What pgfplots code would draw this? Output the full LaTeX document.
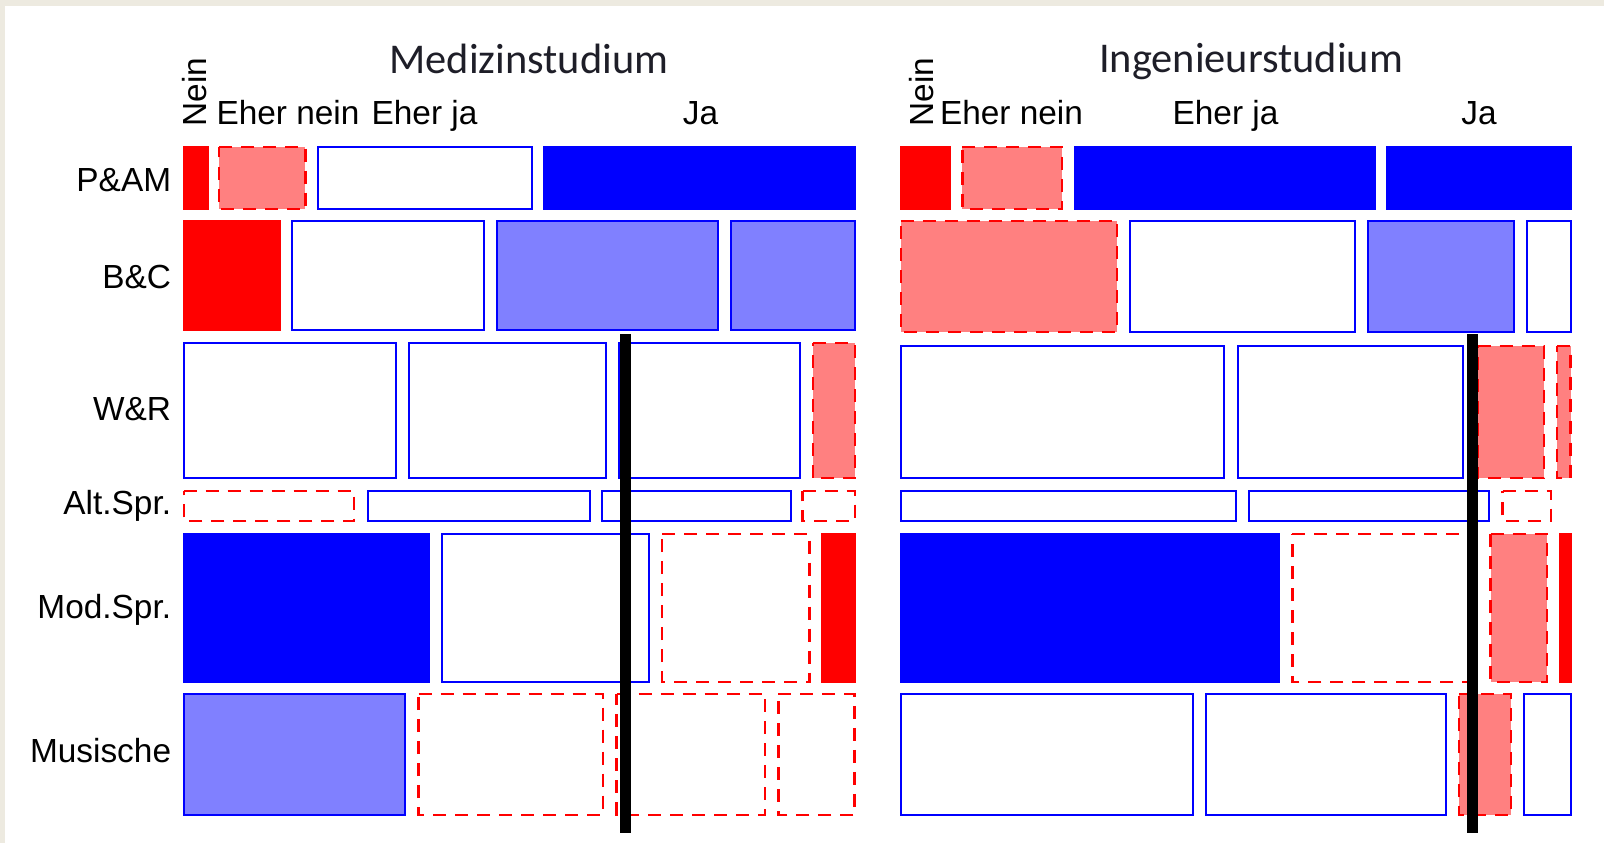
\documentclass[border=0pt]{standalone}
\usepackage{pgfplots}
\pgfplotsset{compat=1.18}
\usepackage{fontspec}
\setmainfont{Liberation Sans}
\newfontfamily\titlefont{Carlito}
\definecolor{lred}{RGB}{255,128,128}
\definecolor{lblue}{RGB}{128,128,255}
\definecolor{beige}{RGB}{237,234,224}
\definecolor{ttlcol}{RGB}{30,30,40}
\tikzset{
  rs/.style={draw=red, fill=red, line width=1bp},
  lr/.style={draw=red, fill=lred, line width=1.1bp, dash pattern=on 6.5bp off 4.5bp},
  wn/.style={draw=red, fill=white, line width=1.1bp, dash pattern=on 6.5bp off 4.5bp},
  wp/.style={draw=blue, fill=white, line width=1bp},
  lb/.style={draw=blue, fill=lblue, line width=1bp},
  bs/.style={draw=blue, fill=blue, line width=1bp},
  lab/.style={inner sep=0pt, font={\fontsize{16.7bp}{20bp}\selectfont}},
  ttl/.style={inner sep=0pt, text=ttlcol, font={\titlefont\fontsize{21.2bp}{25bp}\selectfont}},
}
% cell: style, x0, x1, y0, y1 (pixel units of the mosaic)
\newcommand{\cell}[5]{\addplot[#1] coordinates {(#2,#4) (#3,#4) (#3,#5) (#2,#5)} -- cycle;}
\begin{document}
\begin{tikzpicture}
\begin{axis}[scale only axis, width=802bp, height=421.5bp,
  xmin=0, xmax=1604, ymin=0, ymax=843, y dir=reverse,
  hide axis, clip=false, no markers]
% background
\addplot[fill=white, draw=none] coordinates {(0,0) (1604,0) (1604,843) (0,843)} -- cycle;
\addplot[fill=beige, draw=none] coordinates {(0,0) (1604,0) (1604,6) (0,6)} -- cycle;
\addplot[fill=beige, draw=none] coordinates {(0,0) (5,0) (5,843) (0,843)} -- cycle;
% ---------------- Medizinstudium ----------------
% P&AM
\cell{rs}{183.7}{207.8}{146.7}{209}
\cell{lr}{219.3}{305.4}{146.7}{209}
\cell{wp}{317.6}{532}{146.7}{209}
\cell{bs}{544.2}{854.8}{146.7}{209}
% B&C
\cell{rs}{183.7}{279.6}{220.7}{330}
\cell{wp}{292.2}{484}{220.7}{330}
\cell{lb}{497.1}{718.1}{220.7}{330}
\cell{lb}{731.3}{855}{220.7}{330}
% W&R
\cell{wp}{183.7}{396.1}{343.3}{478.3}
\cell{wp}{409.3}{606.2}{343.3}{478.3}
\cell{wp}{618.8}{799.7}{343.3}{478.3}
\cell{lr}{812.9}{855}{343.3}{478.3}
% Alt.Spr.
\cell{wn}{183.7}{354.2}{491}{520.7}
\cell{wp}{368}{589.6}{491}{520.7}
\cell{wp}{602.2}{790.5}{491}{520.7}
\cell{wn}{802.5}{855}{491}{520.7}
% Mod.Spr.
\cell{bs}{183.7}{429.4}{534}{681.7}
\cell{wp}{442}{648.7}{534}{681.7}
\cell{wn}{662}{809.4}{534}{681.7}
\cell{rs}{822}{855}{534}{681.7}
% Musische
\cell{lb}{183.7}{405.3}{694}{814.7}
\cell{wn}{418.5}{602.8}{694}{814.7}
\cell{wn}{616.5}{765.2}{694}{814.7}
\cell{wn}{778.4}{854.5}{694}{814.7}
% ---------------- Ingenieurstudium ----------------
% P&AM
\cell{rs}{900.7}{950.2}{146.7}{209}
\cell{lr}{962.4}{1062.3}{146.7}{209}
\cell{bs}{1074.5}{1375.4}{146.7}{209}
\cell{bs}{1386.9}{1571}{146.7}{209}
% B&C
\cell{lr}{900.7}{1117}{220.7}{332.3}
\cell{wp}{1130}{1355}{220.7}{332.3}
\cell{lb}{1368.4}{1513.6}{220.7}{332.3}
\cell{wp}{1526.6}{1570.5}{220.7}{332.3}
% W&R
\cell{wp}{900.7}{1224}{346}{478.3}
\cell{wp}{1237.6}{1463}{346}{478.3}
\cell{lr}{1477.5}{1544}{346}{478.3}
\cell{lr}{1557}{1570.5}{346}{478.3}
% Alt.Spr.
\cell{wp}{900.7}{1236}{491}{520.7}
\cell{wp}{1249}{1488.6}{491}{520.7}
\cell{wn}{1502.5}{1551}{491}{520.7}
% Mod.Spr.
\cell{bs}{900.7}{1279.4}{534}{681.7}
\cell{wn}{1292.4}{1475}{534}{681.7}
\cell{lr}{1490.5}{1547.3}{534}{681.7}
\cell{rs}{1559.8}{1571}{534}{681.7}
% Musische
\cell{wp}{900.7}{1193}{694}{814.7}
\cell{wp}{1206.3}{1446.3}{694}{814.7}
\cell{lr}{1459.3}{1511.2}{694}{814.7}
\cell{wp}{1524.2}{1570.5}{694}{814.7}
% black marker lines
\addplot[black, line width=5.5bp] coordinates {(625,334) (625,833)};
\addplot[black, line width=5.5bp] coordinates {(1472,334) (1472,833)};
% titles
\node[ttl, anchor=base] at (axis cs:529,73.5) {Medizinstudium};
\node[ttl, anchor=base] at (axis cs:1251,73) {Ingenieurstudium};
% column labels
\node[lab, anchor=base west, rotate=90] at (axis cs:206,127) {Nein};
\node[lab, anchor=base] at (axis cs:288,125) {Eher nein};
\node[lab, anchor=base] at (axis cs:424.5,125) {Eher ja};
\node[lab, anchor=base] at (axis cs:700.5,125) {Ja};
\node[lab, anchor=base west, rotate=90] at (axis cs:933,127) {Nein};
\node[lab, anchor=base] at (axis cs:1011.5,125) {Eher nein};
\node[lab, anchor=base] at (axis cs:1225.5,125) {Eher ja};
\node[lab, anchor=base] at (axis cs:1479,125) {Ja};
% row labels
\node[lab, anchor=base east] at (axis cs:171.5,191) {P\&AM};
\node[lab, anchor=base east] at (axis cs:171.5,288) {B\&C};
\node[lab, anchor=base east] at (axis cs:171.5,420) {W\&R};
\node[lab, anchor=base east] at (axis cs:171.5,514) {Alt.Spr.};
\node[lab, anchor=base east] at (axis cs:171.5,618) {Mod.Spr.};
\node[lab, anchor=base east] at (axis cs:171.5,762) {Musische};
\end{axis}
\end{tikzpicture}
\end{document}
